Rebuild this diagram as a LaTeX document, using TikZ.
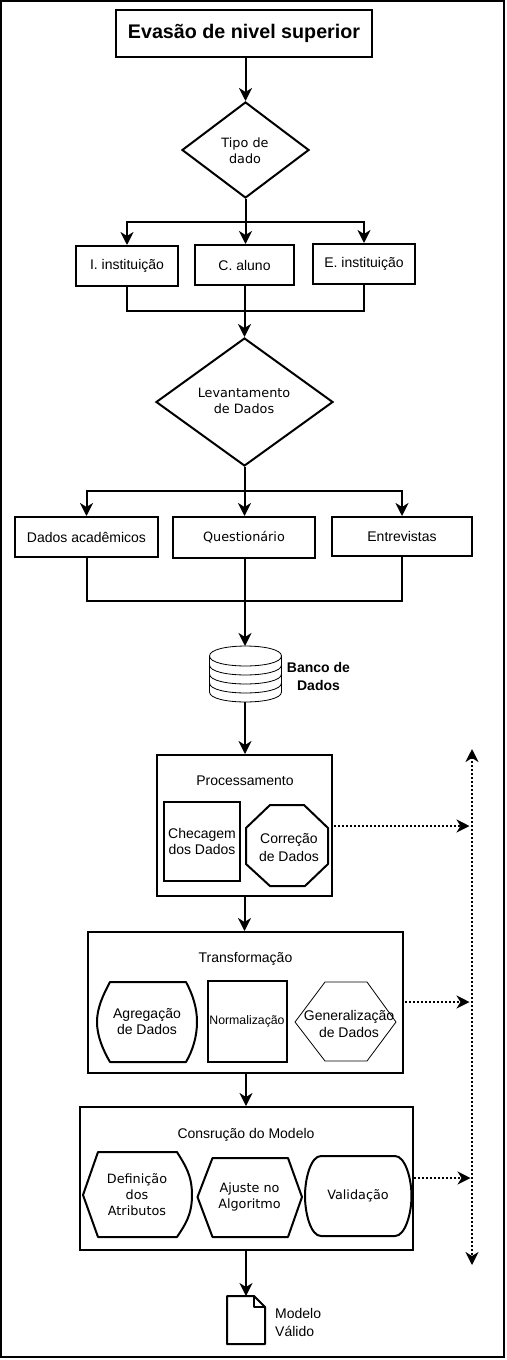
\documentclass[tikz,border=0pt]{standalone}
\usepackage{fontspec}
\setmainfont{Liberation Sans}
\newfontfamily\dvfont{DejaVu Sans}
\usetikzlibrary{arrows.meta,shapes.geometric}
\tikzset{
  x=1pt,y=-1pt,
  conn/.style={line width=2pt,-{Stealth[length=13pt,width=13pt,inset=4pt]}},
  plainconn/.style={line width=2pt},
  dotconn/.style={line width=2pt,dash pattern=on 2pt off 2pt,-{Stealth[length=13pt,width=13pt,inset=4pt]}},
  boxn/.style={draw,line width=2pt,rectangle,inner sep=0pt,align=center,font=\fontsize{14}{16.5}\selectfont},
  dia/.style={draw,line width=2pt,diamond,inner sep=0pt},
  lab/.style={inner sep=0pt,align=center,font=\fontsize{14}{16.5}\selectfont},
  vlab/.style={inner sep=0pt,align=center,font=\dvfont\fontsize{12.8}{16}\selectfont},
  shapeline/.style={line width=2pt,line join=round},
  thinline/.style={line width=0.8pt,line join=round},
}
\begin{document}
\begin{tikzpicture}
\useasboundingbox[fill=white] (0,0) rectangle (506,1360);
\draw[line width=2pt] (1,1) rectangle (504,1357);

% top block
\node[boxn,minimum width=256pt,minimum height=47pt,font=\bfseries\fontsize{19.7}{24}\selectfont] (title) at (244,33) {Evasão de nivel superior};
\node[dia,aspect=1.32,minimum width=127pt,minimum height=96pt] (tipo) at (245.5,150) {};
\node[vlab] (tipot) at (245,150.5) {Tipo de\\dado};
\node[boxn,minimum width=102pt,minimum height=40pt] (inst) at (127,266) {I. instituição};
\node[boxn,minimum width=99pt,minimum height=40pt] (aluno) at (244.5,265) {C. aluno};
\node[boxn,minimum width=102pt,minimum height=40pt] (einst) at (364,264) {E. instituição};
\node[dia,aspect=1.38,minimum width=177pt,minimum height=128pt] (lev) at (244.5,402) {};
\node[vlab] (levt) at (244,400.5) {Levantamento\\de Dados};
\node[boxn,minimum width=143pt,minimum height=40pt] (acad) at (86.5,537) {Dados acadêmicos};
\node[boxn,minimum width=142pt,minimum height=41pt,font=\dvfont\fontsize{12.8}{16}\selectfont] (quest) at (244,537.5) {Questionário};
\node[boxn,minimum width=140pt,minimum height=39pt] (entre) at (402,536.5) {Entrevistas};

% database
\draw[thinline] (209.5,656) .. controls (209.5,642.7) and (281.5,642.7) .. (281.5,656)
  -- (281.5,692) .. controls (281.5,705.3) and (209.5,705.3) .. (209.5,692) -- cycle;
\draw[thinline] (209.5,656) .. controls (209.5,669.3) and (281.5,669.3) .. (281.5,656);
\draw[thinline] (209.5,665) .. controls (209.5,678.3) and (281.5,678.3) .. (281.5,665);
\draw[thinline] (209.5,674) .. controls (209.5,687.3) and (281.5,687.3) .. (281.5,674);
\draw[thinline] (209.5,683) .. controls (209.5,696.3) and (281.5,696.3) .. (281.5,683);
\coordinate (dbtop) at (245,646);
\coordinate (dbbot) at (245,702);
\node[lab,font=\bfseries\fontsize{14}{18}\selectfont] (dblabel) at (318.5,676) {Banco de\\Dados};

% Processamento
\node[boxn,minimum width=175pt,minimum height=141pt] (proc) at (244.5,825.5) {};
\node[lab] (proct) at (245,781) {Processamento};
\node[boxn,minimum width=76pt,minimum height=79pt] (chec) at (202,841.5) {Checagem\\dos Dados};
\draw[shapeline] (270,805) -- (304,805) -- (328,828) -- (328,864) -- (305,886) -- (270,886) -- (246,864) -- (246,828) -- cycle;
\node[lab,font=\fontsize{14}{17.5}\selectfont] (corr) at (289,847.5) {Correção\\de Dados};

% Transformacao
\node[boxn,minimum width=315pt,minimum height=141pt] (trans) at (245.5,1002.5) {};
\node[lab] (transt) at (245.5,958.5) {Transformação};
\draw[shapeline] (110,982) -- (186,982) .. controls (193,995) and (197,1008) .. (197,1022)
  .. controls (197,1036) and (193,1050) .. (186,1062) -- (110,1062)
  .. controls (103,1050) and (97,1036) .. (97,1022) .. controls (97,1008) and (103,995) .. (110,982) -- cycle;
\node[lab] (agre) at (147,1021.5) {Agregação\\de Dados};
\node[boxn,minimum width=79pt,minimum height=81pt,font=\fontsize{12.3}{14}\selectfont] (norm) at (247,1021) {Normalização};
\draw[thinline] (325,982) -- (367,982) -- (396,1022) -- (367,1061) -- (325,1061) -- (295,1022) -- cycle;
\node[lab] (gene) at (349,1024) {Generalização\\de Dados};

% Construcao
\node[boxn,minimum width=333pt,minimum height=143pt] (cons) at (246.5,1178.5) {};
\node[lab] (const) at (246,1134.5) {Consrução do Modelo};
\draw[shapeline] (98,1152) -- (177,1152) .. controls (185,1165) and (192,1175) .. (192,1195)
  .. controls (192,1215) and (185,1225) .. (177,1237) -- (98,1237) -- (83,1195) -- cycle;
\node[vlab] (defi) at (137,1195) {Definição\\dos\\Atributos};
\draw[shapeline] (212.5,1158) -- (288,1158) -- (302,1197) -- (288,1237) -- (212.5,1237) -- (197.5,1197) -- cycle;
\node[vlab] (ajus) at (249.5,1197) {Ajuste no\\Algoritmo};
\draw[shapeline] (321,1156) -- (395,1156) .. controls (405,1156) and (411.5,1178) .. (411.5,1196)
  .. controls (411.5,1214) and (405,1236) .. (395,1236) -- (321,1236)
  .. controls (311,1236) and (305,1214) .. (305,1196) .. controls (305,1178) and (311,1156) .. (321,1156) -- cycle;
\node[vlab] (vali) at (358,1196) {Validação};

% document
\draw[shapeline] (227,1296) -- (254,1296) -- (265,1307) -- (265,1344) -- (227,1344) -- cycle;
\draw[shapeline] (254,1296) -- (254,1307) -- (265,1307);
\coordinate (doctop) at (246,1296);
\node[lab,align=left,font=\fontsize{14}{18}\selectfont,anchor=west] (modelo) at (275,1322) {Modelo\\Válido};

% connectors
\draw[conn] (tipo.north |- title.south) -- (tipo.north);
\draw[conn] (tipo.south) -- (tipo.south |- aluno.north);
\coordinate (splitA) at (245,222);
\draw[conn] (splitA) -| (inst.north);
\draw[conn] (splitA) -| (einst.north);
\coordinate (mergeA) at (244,311);
\draw[plainconn] (inst.south) |- (mergeA);
\draw[plainconn] (einst.south) |- (mergeA);
\draw[conn] (lev.north |- aluno.south) -- (lev.north);
\draw[conn] (lev.south) -- (lev.south |- quest.north);
\coordinate (splitB) at (244,491);
\draw[conn] (splitB) -| (acad.north);
\draw[conn] (splitB) -| (entre.north);
\coordinate (mergeB) at (245,601);
\draw[plainconn] (acad.south) |- (mergeB);
\draw[plainconn] (entre.south) |- (mergeB);
\draw[conn] (dbtop |- quest.south) -- (dbtop);
\draw[conn] (dbbot) -- (dbbot |- proc.north);
\draw[conn] (proc.south) -- (proc.south |- trans.north);
\draw[conn] (doctop |- trans.south) -- (doctop |- cons.north);
\draw[conn] (doctop |- cons.south) -- (doctop);

% dotted bus
\coordinate (busT) at (472,749);
\coordinate (busB) at (472,1265);
\draw[dotconn,{Stealth[length=13pt,width=13pt,inset=4pt]}-{Stealth[length=13pt,width=13pt,inset=4pt]}] (busT) -- (busB);
\coordinate (t1) at (469.5,826);
\coordinate (t2) at (469.5,1002);
\coordinate (t3) at (470.5,1178);
\draw[dotconn] (proc.east |- t1) ++(1,0) -- (t1);
\draw[dotconn] (trans.east |- t2) ++(1,0) -- (t2);
\draw[dotconn] (cons.east |- t3) -- (t3);
\end{tikzpicture}
\end{document}
